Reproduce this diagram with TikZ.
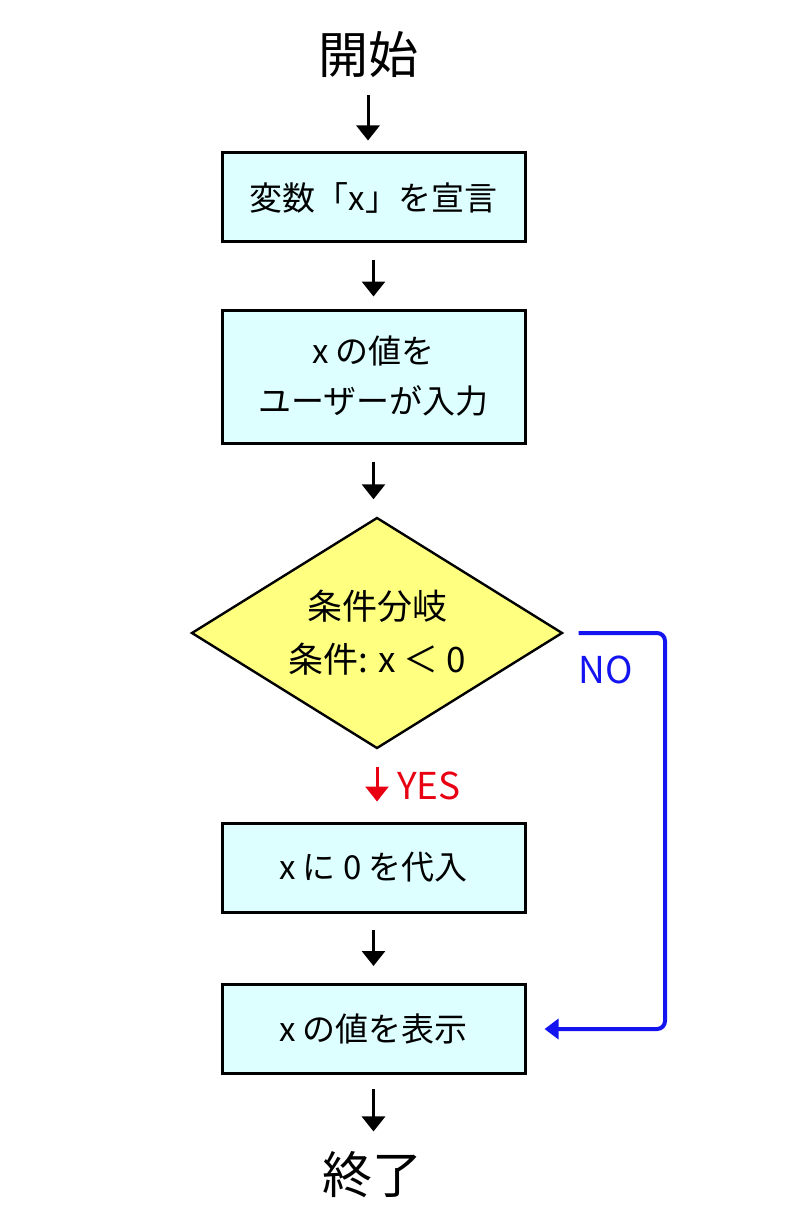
\documentclass[tikz,border=0pt]{standalone}
\usepackage{fontspec}
\setmainfont{Noto Sans CJK JP}
\usetikzlibrary{shapes.geometric,arrows.meta}
\definecolor{boxcyan}{RGB}{221,255,255}
\definecolor{condyellow}{RGB}{255,255,128}
\definecolor{noblue}{RGB}{20,20,240}
\definecolor{yesred}{RGB}{232,0,18}

\begin{document}
\begin{tikzpicture}[x=0.5pt,y=-0.5pt,
  proc/.style={draw,line width=1.5pt,fill=boxcyan,minimum width=151.5pt,
    minimum height=44.5pt,inner sep=0pt,align=center,
    font=\fontsize{16.5}{25}\selectfont},
  term/.style={inner sep=0pt,font=\fontsize{25}{30}\selectfont},
  flow/.style={line width=1.5pt,-{Triangle[width=11.5pt,length=7.5pt]}},
  lbl/.style={font=\fontsize{18.5}{20}\selectfont}]
\useasboundingbox (0,0) rectangle (800,1225);
\node[term] (start) at (368,55) {開始};
\node[proc] (decl) at (373.5,197.5) {変数「x」を宣言};
\node[proc,minimum height=66.5pt] (input) at (373.5,376.5) {x の値を\\ユーザーが入力};
\node[diamond,draw,line width=1.2pt,fill=condyellow,minimum width=185.5pt,
  minimum height=115.5pt,aspect=1.6,inner sep=0pt,align=center,
  font=\fontsize{17.5}{26.5}\selectfont] (cond) at (377,633) {条件分岐\\条件: x ＜ 0};
\node[proc] (assign) at (373.5,867.5) {x に 0 を代入};
\node[proc] (show) at (373.5,1029) {x の値を表示};
\node[term] (stop) at (372,1175) {終了};
\coordinate (noturn) at (665,633);
% main flow
\draw[flow,shorten <=8.5pt,shorten >=5.5pt] (start.south) -- (start.south |- decl.north);
\draw[flow,shorten <=8pt,shorten >=6pt] (decl.south) -- (decl.south |- input.north);
\draw[flow,shorten <=8.5pt,shorten >=8.5pt] (input.south) -- (input.south |- cond.north);
\draw[flow,yesred,shorten <=8.5pt,shorten >=10pt] (cond.south) -- (cond.south |- assign.north)
  node[midway,right=6pt,lbl] (yes) {YES};
\draw[flow,shorten <=8pt,shorten >=8.5pt] (assign.south) -- (assign.south |- show.north);
\draw[flow,shorten <=7pt,shorten >=10pt] (show.south) -- (show.south |- stop.north);
% NO branch
\draw[noblue,line width=2pt,rounded corners=4pt,-{Triangle[width=10pt,length=7pt]},
  shorten <=7.5pt,shorten >=9pt] (cond.east) -- (noturn) |- (show.east);
\node[lbl,noblue] (no) at (606,670) {NO};
\end{tikzpicture}
\end{document}
